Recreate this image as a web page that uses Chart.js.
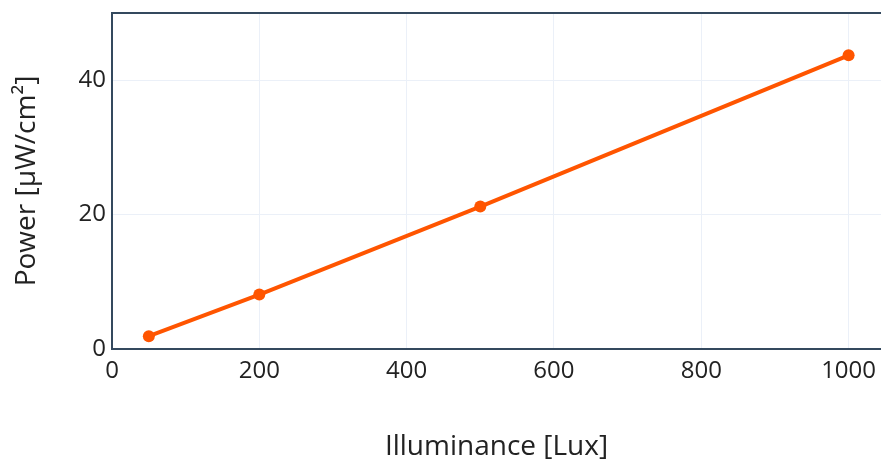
<!DOCTYPE html>
<html>
<head>
<meta charset="utf-8">
<script src="https://cdn.jsdelivr.net/npm/chart.js@4.4.0/dist/chart.umd.min.js"></script>
<style>
  html, body { margin: 0; padding: 0; background: #fff; }
  #wrap { position: relative; width: 881px; height: 464px; }
</style>
</head>
<body>
<div id="wrap"><canvas id="c"></canvas></div>
<script>
  // data
  const illuminance = [50, 200, 500, 1000];
  const power = [1.9, 8.1, 21.2, 43.7];
  const xTicks = [0, 200, 400, 600, 800, 1000];
  const yTicks = [0, 20, 40];

  const FONT = '"Open Sans", "Noto Sans", sans-serif';
  const TEXT = '#222';
  const AXIS = '#34495e';
  const GRID = '#ebf0f8';
  const ORANGE = '#ff5500';

  const pts = illuminance.map((x, i) => ({ x, y: power[i] }));
  const noGridAtZero = c => (c.tick && c.tick.value === 0 ? 'rgba(0,0,0,0)' : GRID);

  new Chart(document.getElementById('c'), {
    type: 'line',
    data: {
      datasets: [{
        data: pts,
        borderColor: ORANGE,
        backgroundColor: ORANGE,
        borderWidth: 4,
        pointRadius: 6,
        pointHoverRadius: 6,
        pointBorderWidth: 0,
        tension: 0,
        fill: false,
        clip: false,
      }],
    },
    options: {
      responsive: true,
      maintainAspectRatio: false,
      animation: false,
      layout: { autoPadding: false, padding: { top: 13, right: 0, left: 0, bottom: 0 } },
      plugins: { legend: { display: false }, tooltip: { enabled: false } },
      scales: {
        x: {
          type: 'linear',
          min: 0,
          max: 1044,
          afterBuildTicks: a => { a.ticks = xTicks.map(v => ({ value: v })); },
          afterFit: a => { a.height = 115; a.paddingLeft = 0; a.paddingRight = 0; },
          grid: { color: noGridAtZero, lineWidth: 1, drawTicks: false },
          border: { display: true, color: AXIS, width: 2 },
          ticks: {
            color: TEXT,
            font: { family: FONT, size: 24 },
            padding: 8,
            maxRotation: 0,
            callback: v => String(v),
          },
          title: {
            display: true,
            text: 'Illuminance [Lux]',
            color: TEXT,
            font: { family: FONT, size: 28 },
            padding: { top: 0, bottom: 0 },
          },
        },
        xTop: {
          type: 'linear',
          position: 'top',
          min: 0,
          max: 1044,
          afterFit: a => { a.height = 0; a.paddingLeft = 0; a.paddingRight = 0; },
          grid: { display: false, drawTicks: false },
          border: { display: true, color: AXIS, width: 2 },
          ticks: { display: false },
        },
        y: {
          type: 'linear',
          min: 0,
          max: 50,
          afterBuildTicks: a => { a.ticks = yTicks.map(v => ({ value: v })); },
          afterFit: a => { a.width = 112; a.paddingTop = 0; a.paddingBottom = 0; },
          grid: { color: noGridAtZero, lineWidth: 1, drawTicks: false },
          border: { display: true, color: AXIS, width: 2 },
          ticks: { color: TEXT, font: { family: FONT, size: 24 }, padding: 6 },
          title: {
            display: true,
            text: 'Power [µW/cm²]',
            color: TEXT,
            font: { family: FONT, size: 28 },
            padding: { top: 10, bottom: 0 },
          },
        },
      },
    },
  });
</script>
</body>
</html>
